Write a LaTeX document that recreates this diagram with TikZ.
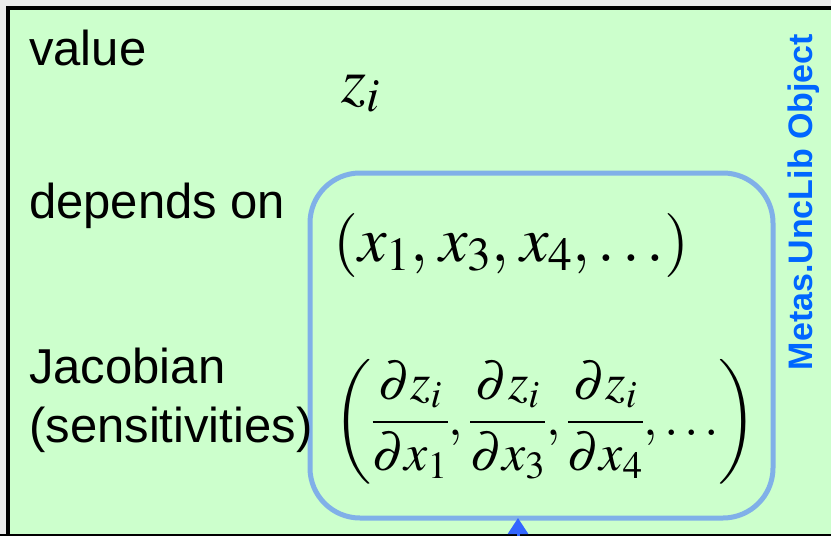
\documentclass[tikz,border=0pt]{standalone}
\usepackage{amsmath}
\usepackage{mathptmx}
\usepackage[no-math]{fontspec}
\setsansfont{Liberation Sans}
\usetikzlibrary{positioning,arrows.meta,calc}

\definecolor{objgreen}{HTML}{CCFFCC}
\definecolor{outgray}{HTML}{EBEBEB}
\definecolor{boxblue}{HTML}{80B0E8}
\definecolor{labelblue}{HTML}{0066FF}
\definecolor{tipblue}{HTML}{3366FF}

\begin{document}
\begin{tikzpicture}[x=1pt, y=-1pt,
    lbl/.style={anchor=base west, inner sep=0pt, font=\sffamily\fontsize{49}{59}\selectfont},
    mth/.style={anchor=west, inner sep=0pt, font=\fontsize{64}{76}\selectfont},
    depbox/.style={draw=boxblue, line width=5pt, rounded corners=50pt, outer sep=0pt, minimum width=463pt, minimum height=345pt},
    uparrow/.style={-{Triangle[width=20pt,length=16pt]}, line width=3pt, tipblue},
]
  \clip (0,0) rectangle (831,536);
  \fill[outgray] (0,0) rectangle (831,536);
  \fill[objgreen] (8,8) rectangle (840,535);
  \draw[line width=4.5pt] (8,545) -- (8,8) -- (840,8);
  \draw[line width=1.5pt] (0,535) -- (840,535);

  \node[depbox] (deps) at (541.5,345.5) {};

  \node[lbl] (value) at (29,65) {value};
  \node[lbl] (depends) at (29,218) {depends on};
  \node[lbl] (jacobian) at (29,383) {Jacobian};
  \node[lbl] (sensitiv) at (29,442) {(sensitivities)};

  \node[mth, anchor=base west] (zval) at (341,102) {$z_i$};
  \node[mth] (xvec) at (333,245) {$\left(x_1,\mkern1mu x_3,\mkern1mu x_4, \ldots\right)$};
  \node[mth, font=\fontsize{52}{62}\selectfont] (jvec) at (333,422)
    {$\left(\dfrac{\partial z_i}{\partial x_1}, \dfrac{\partial z_i}{\partial x_3}, \dfrac{\partial z_i}{\partial x_4}, \ldots\right)$};

  \node[rotate=90, text=labelblue, font=\sffamily\bfseries\fontsize{34}{40}\selectfont] (objname) at (804,202) {Metas.UncLib Object};

  \coordinate (arrowfoot) at (518,570);
  \draw[uparrow] (arrowfoot) -- (arrowfoot |- deps.south);
\end{tikzpicture}
\end{document}
